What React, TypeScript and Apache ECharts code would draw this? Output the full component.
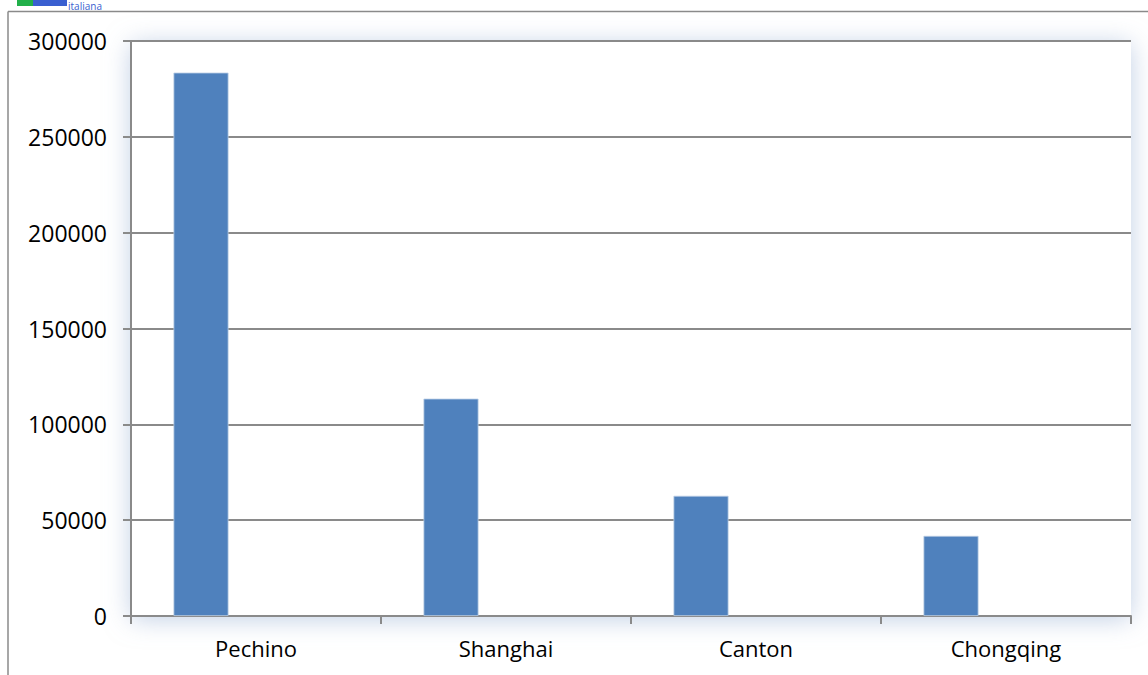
import React, { useEffect, useRef } from "react";
import * as echarts from "echarts";

const categories = ["Pechino", "Shanghai", "Canton", "Chongqing"];
const seriesValues = [283500, 113400, 62700, 41800];
const emptySeriesA = [null, null, null, null];
const emptySeriesB = [null, null, null, null];
const yTicks = { min: 0, max: 300000, interval: 50000 };

export default function App() {
  const ref = useRef<HTMLDivElement>(null);
  useEffect(() => {
    document.body.style.margin = "0";
    const chart = echarts.init(ref.current!, null, { renderer: "svg" });
    const font = "'Open Sans', 'Noto Sans', sans-serif";
    const gray = "#8a8a8a";
    chart.setOption({
      animation: false,
      backgroundColor: "#ffffff",
      grid: {
        left: 131,
        right: 17,
        top: 41,
        bottom: 59,
        show: true,
        borderWidth: 0,
        backgroundColor: "#ffffff",
        shadowBlur: 26,
        shadowColor: "rgba(150,175,210,0.6)",
        shadowOffsetY: 3,
      },
      graphic: [
        { type: "line", shape: { x1: 8, y1: 11.5, x2: 1148, y2: 11.5 }, style: { stroke: gray, lineWidth: 1.5 }, z: 10 },
        { type: "line", shape: { x1: 8, y1: 11.5, x2: 8, y2: 675 }, style: { stroke: gray, lineWidth: 1.5 }, z: 10 },
        { type: "rect", shape: { x: 17, y: 0, width: 16, height: 6 }, style: { fill: "#22b04a" }, z: 10 },
        { type: "rect", shape: { x: 33, y: 0, width: 34, height: 6 }, style: { fill: "#3a5fd0" }, z: 10 },
        {
          type: "text",
          x: 68,
          y: 5.5,
          style: { text: "italiana", fill: "#3a5fd0", fontSize: 10, fontFamily: "'Open Sans', sans-serif", verticalAlign: "middle", lineHeight: 10 },
          z: 10,
        },
      ],
      xAxis: {
        type: "category",
        data: categories,
        axisLine: { show: true, lineStyle: { color: gray, width: 2 } },
        axisTick: { show: true, length: 8, alignWithLabel: false, lineStyle: { color: gray, width: 2 } },
        axisLabel: { color: "#000", fontSize: 22, fontFamily: font, margin: 21 },
        splitLine: { show: false },
      },
      yAxis: {
        type: "value",
        min: yTicks.min,
        max: yTicks.max,
        interval: yTicks.interval,
        axisLine: { show: true, lineStyle: { color: gray, width: 2 } },
        axisTick: { show: true, length: 8, lineStyle: { color: gray, width: 2 } },
        axisLabel: { color: "#000", fontSize: 23, fontFamily: font, margin: 24, formatter: (v: number) => String(v) },
        splitLine: { show: true, lineStyle: { color: gray, width: 2 } },
      },
      series: [
        { type: "bar", data: seriesValues, barWidth: 55, barGap: "0%", itemStyle: { color: "#4f81bd", borderColor: "#b9cde5", borderWidth: 0.8 } },
        { type: "bar", data: emptySeriesA, barWidth: 55, barGap: "0%" },
        { type: "bar", data: emptySeriesB, barWidth: 55, barGap: "0%" },
      ],
    });
    return () => chart.dispose();
  }, []);
  return <div ref={ref} style={{ width: 1148, height: 675 }} />;
}
